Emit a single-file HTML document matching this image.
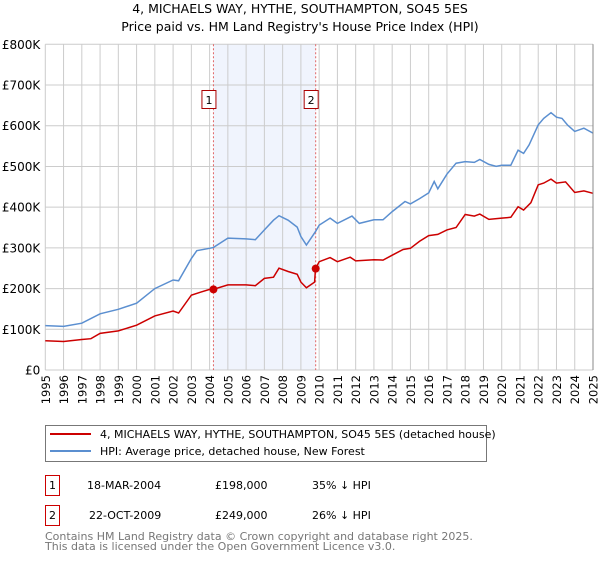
<!DOCTYPE html>
<html><head><meta charset="utf-8"><style>
body{margin:0;background:#fff;font-family:"DejaVu Sans","Liberation Sans",sans-serif;}
svg text{font-family:"DejaVu Sans","Liberation Sans",sans-serif;}
</style></head><body>
<svg id="chart" width="600" height="560" viewBox="0 0 600 560" xmlns="http://www.w3.org/2000/svg">
<text x="300" y="13" text-anchor="middle" font-size="12.5">4, MICHAELS WAY, HYTHE, SOUTHAMPTON, SO45 5ES</text>
<text x="300" y="31" text-anchor="middle" font-size="12.5">Price paid vs. HM Land Registry's House Price Index (HPI)</text>
<g id="grid"></g><g id="series"></g><g id="axes"></g>
<rect x="45.5" y="425.5" width="441" height="36" fill="#fff" stroke="#777"/>
<line x1="50" y1="434" x2="91" y2="434" stroke="#cc0000" stroke-width="2"/>
<text x="100" y="438" font-size="11">4, MICHAELS WAY, HYTHE, SOUTHAMPTON, SO45 5ES (detached house)</text>
<line x1="50" y1="451" x2="91" y2="451" stroke="#5b8fd0" stroke-width="2"/>
<text x="100" y="455" font-size="11">HPI: Average price, detached house, New Forest</text>
<g font-size="11">
<rect x="45.5" y="475.5" width="14" height="20" fill="none" stroke="#cc0000"/>
<text x="52.5" y="489" text-anchor="middle">1</text>
<text x="87" y="489">18-MAR-2004</text><text x="215" y="489">£198,000</text><text x="312" y="489">35% ↓ HPI</text></g>
<g font-size="11">
<rect x="45.5" y="505.5" width="14" height="20" fill="none" stroke="#cc0000"/>
<text x="52.5" y="519" text-anchor="middle">2</text>
<text x="89" y="519">22-OCT-2009</text><text x="215" y="519">£249,000</text><text x="312" y="519">26% ↓ HPI</text></g>
<text x="45" y="540" font-size="11" fill="#777">Contains HM Land Registry data © Crown copyright and database right 2025.</text>
<text x="45" y="550" font-size="11" fill="#777">This data is licensed under the Open Government Licence v3.0.</text>
</svg>
<script>
const hpiYears=[1995,1996,1997,1998,1999,2000,2001,2002,2002.3,2003,2003.3,2004,2004.2,2005,2006,2006.5,2007,2007.5,2007.8,2008.3,2008.8,2009,2009.3,2009.8,2010,2010.6,2011,2011.8,2012.2,2013,2013.5,2014,2014.7,2015,2015.5,2016,2016.3,2016.5,2017,2017.5,2018,2018.5,2018.8,2019.3,2019.7,2020,2020.5,2020.9,2021.2,2021.5,2022,2022.3,2022.7,2023,2023.3,2023.6,2024,2024.5,2025];
const hpiValues=[109,107,115,138,149,164,200,221,219,274,293,299,301,324,322,320,344,368,379,368,351,328,307,340,356,373,360,378,360,369,369,389,414,408,421,435,463,445,481,508,512,510,517,505,500,503,503,540,532,553,602,618,632,621,618,602,586,594,582];
const propYears=[1995,1996,1997,1997.5,1998,1999,2000,2001,2002,2002.3,2003,2003.5,2004,2004.2,2005,2006,2006.5,2007,2007.5,2007.8,2008.3,2008.8,2009,2009.3,2009.75,2009.8,2010,2010.6,2011,2011.7,2012,2013,2013.5,2014,2014.6,2015,2015.5,2016,2016.5,2017,2017.5,2018,2018.5,2018.8,2019.3,2020,2020.5,2020.9,2021.2,2021.6,2022,2022.3,2022.7,2023,2023.5,2024,2024.5,2025];
const propValues=[72,70,75,77,90,96,110,133,145,140,184,191,198,198,209,209,207,225,228,250,242,235,216,202,216,249,266,276,266,277,268,271,270,282,296,299,316,330,333,344,350,382,378,383,370,373,375,401,393,411,455,459,469,459,462,436,440,434];
const saleYears=[2004.21,2009.81];
const saleValues=[198,249];
const saleLabels=["1","2"];
const yTicks=[0,100,200,300,400,500,600,700,800];
const yTickLabels=["£0","£100K","£200K","£300K","£400K","£500K","£600K","£700K","£800K"];
const xTicks=[1995,1996,1997,1998,1999,2000,2001,2002,2003,2004,2005,2006,2007,2008,2009,2010,2011,2012,2013,2014,2015,2016,2017,2018,2019,2020,2021,2022,2023,2024,2025];

const NS="http://www.w3.org/2000/svg";
const X0=45.3,X1=593,Y0=370,Y1=44.3;
const xs=y=>X0+(y-1995)/30*(X1-X0);
const ys=v=>Y0-v/800*(Y0-Y1);
function mk(tag,attrs,parent){const e=document.createElementNS(NS,tag);for(const k in attrs)e.setAttribute(k,attrs[k]);parent.appendChild(e);return e;}
const grid=document.getElementById('grid'),series=document.getElementById('series'),axes=document.getElementById('axes');
const shade=mk('rect',{x:xs(saleYears[0]),y:Y1,width:xs(saleYears[1])-xs(saleYears[0]),height:Y0-Y1,fill:'#f0f4fd'},grid);


yTicks.forEach((t,i)=>{
  const l=mk('line',{x1:X0,x2:X1,y1:ys(t),y2:ys(t),stroke:'#ccc'},grid);
  
  
  const tx=mk('text',{x:X0-5,y:ys(t)+4.5,'text-anchor':'end','font-size':'12'},axes);
  tx.textContent=yTickLabels[i];
  
  
});
xTicks.forEach(t=>{
  const l=mk('line',{x1:xs(t),x2:xs(t),y1:Y1,y2:Y0,stroke:'#ccc'},grid);
  
  
  const tx=mk('text',{x:0,y:0,'text-anchor':'end','font-size':'11.5',transform:`translate(${xs(t)+4.5},${Y0+5}) rotate(-90)`},axes);
  tx.textContent=t;
  
  
});
saleYears.forEach((y,i)=>{
  const l=mk('line',{x1:xs(y),x2:xs(y),y1:Y1,y2:Y0,stroke:'#e06666','stroke-dasharray':'2,2'},grid);
  
  
  const g=mk('g',{},axes);
  
  
  mk('rect',{x:xs(y)-11.5,y:90.5,width:14,height:18,fill:'#fff',stroke:'#aa0000'},g);
  const t=mk('text',{x:xs(y)-4.5,y:104,'text-anchor':'middle','font-size':'11'},g);
  t.textContent=saleLabels[i];
});
const pts=(xa,va)=>xa.map((x,i)=>xs(x).toFixed(1)+','+ys(va[i]).toFixed(1)).join(' ');
const hl=mk('polyline',{points:pts(hpiYears,hpiValues),fill:'none',stroke:'#5b8fd0','stroke-width':1.5},series);


const pl=mk('polyline',{points:pts(propYears,propValues),fill:'none',stroke:'#cc0000','stroke-width':1.5},series);


saleYears.forEach((y,i)=>{
  const c=mk('circle',{cx:xs(y),cy:ys(saleValues[i]),r:4,fill:'#cc0000'},series);
  
  
});
const rb=mk('line',{x1:X1,x2:X1,y1:Y1,y2:Y0,stroke:'#888'},axes);


</script>
</body></html>
